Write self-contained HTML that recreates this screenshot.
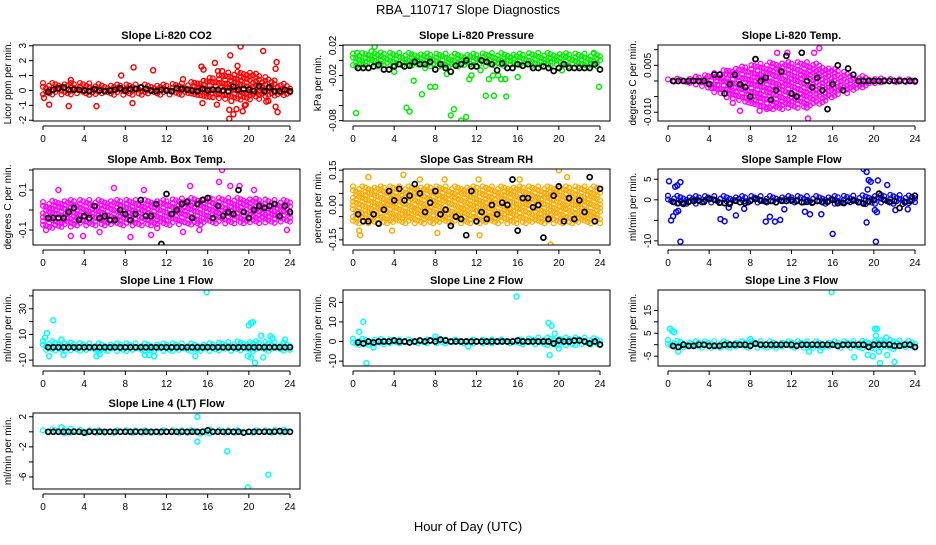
<!DOCTYPE html>
<html><head><meta charset="utf-8"><style>
body{margin:0;background:#fff;}
svg text{font-family:"Liberation Sans",Arial,sans-serif;}
</style></head><body>
<svg id="chart" width="936" height="540" viewBox="0 0 936 540" xmlns="http://www.w3.org/2000/svg">
<text x="468" y="14" text-anchor="middle" font-size="13">RBA_110717  Slope Diagnostics</text>
<text x="468" y="531" text-anchor="middle" font-size="13">Hour of Day (UTC)</text>
</svg>
<script>
// ---- data arrays ----
const xTicks = [0,4,8,12,16,20,24];
const bandHours = [0,2,4,6,8,10,12,14,16,18,20,22,24];

const p1Lo = [-0.3,-0.3,-0.3,-0.3,-0.3,-0.3,-0.3,-0.3,-0.5,-0.6,-0.7,-0.5,-0.3];
const p1Hi = [0.5,0.5,0.5,0.4,0.4,0.4,0.4,0.5,0.8,1.2,1.3,0.8,0.3];
const p1Out = [[0.1,-0.5],[0.6,-0.95],[2.5,-1.05],[2.7,0.7],[5.2,-1.05],[8.8,1.55],[8.7,-0.85],[10.7,1.35],[13.6,0.75],[15.4,1.6],[15.6,1.4],[16.7,1.85],[16.9,-0.95],[17.4,1.3],[18.1,-1.9],[18.2,2.35],[18.1,-1.3],[18.5,-1.6],[18.8,-1.25],[19.2,2.95],[19.4,-1.4],[19.6,-1.0],[18.9,1.65],[21.4,2.65],[22.7,1.9],[22.6,-1.1],[22.8,-1.45],[22.6,1.45],[19.7,-0.95],[17.0,1.3],[18.3,-0.7],[15.5,-0.85],[7.6,1.0],[21.7,-0.75],[21.9,-0.7]];
const p1Black = [-0.1,0.05,0.15,0.2,0.05,0.05,0.05,0.0,-0.05,0.1,0.0,-0.05,0.0,0.05,0.15,0.0,0.1,0.1,0.2,0.1,0.0,-0.05,0.05,0.0,-0.05,0.15,0.1,0.05,0.0,-0.05,0.1,0.0,0.05,0.05,0.0,-0.05,0.25,0.05,0.1,0.05,-0.05,0.3,-0.05,0.2,-0.05,-0.05,0.05,-0.05];

const p2Lo = [-0.008,-0.008,-0.008,-0.008,-0.008,-0.008,-0.008,-0.008,-0.008,-0.008,-0.008,-0.008,-0.008];
const p2Hi = [0.009,0.011,0.01,0.01,0.009,0.009,0.009,0.01,0.009,0.01,0.01,0.009,0.009];
const p2Out = [[0.3,-0.07],[0.4,0.01],[4.0,-0.015],[5.2,-0.063],[5.5,-0.068],[5.9,-0.027],[6.7,-0.045],[7.0,-0.01],[7.5,-0.035],[8.0,-0.035],[9.1,-0.018],[9.5,-0.073],[9.8,-0.065],[10.5,-0.08],[11.0,-0.075],[11.3,-0.025],[11.5,-0.02],[12.4,-0.013],[12.9,-0.047],[13.2,-0.025],[13.7,-0.047],[13.6,-0.02],[14.1,-0.02],[14.4,-0.025],[14.8,-0.025],[14.9,-0.048],[16.0,-0.022],[20.3,-0.013],[23.9,-0.035],[2.1,0.018],[1.8,0.012],[23.4,0.01]];
const p2Black = [-0.01,-0.01,-0.01,-0.008,-0.006,-0.012,-0.012,-0.008,-0.005,-0.008,-0.007,-0.002,-0.005,-0.005,-0.002,-0.012,-0.005,-0.01,-0.015,-0.007,-0.005,0,-0.008,-0.008,0,-0.002,-0.005,-0.013,-0.004,-0.01,-0.01,-0.005,-0.007,-0.005,-0.01,-0.01,-0.008,-0.01,-0.014,-0.01,-0.005,-0.01,-0.01,-0.01,-0.01,-0.01,-0.005,-0.012];

const p3Lo = [-0.0005,-0.001,-0.003,-0.006,-0.008,-0.009,-0.009,-0.008,-0.006,-0.003,-0.001,-0.0005,-0.0005];
const p3Hi = [0.0005,0.001,0.002,0.004,0.005,0.006,0.006,0.006,0.004,0.002,0.001,0.0005,0.0005];
const p3Out = [[7.0,-0.0095],[8.9,-0.0095],[9.6,-0.0089],[10.6,0.009],[11.6,0.009],[13.6,-0.012],[14.7,0.0105],[13.5,-0.0085],[6.3,-0.007],[8.5,0.007],[14.2,0.009]];
const p3Black = [0,0,0,0,0,0,0,-0.001,0.002,0.002,-0.004,-0.001,0.002,-0.001,-0.002,-0.005,0.007,0,0.001,-0.006,-0.003,0.003,0.008,-0.004,-0.005,0.009,0,-0.002,0.001,-0.003,-0.009,-0.001,0.005,-0.003,0.004,0.002,0,0,0,0,0,0,0,0,0,0,0,0];

const p4Lo = [-0.09,-0.09,-0.08,-0.08,-0.08,-0.08,-0.08,-0.08,-0.07,-0.07,-0.07,-0.07,-0.07];
const p4Hi = [0.04,0.05,0.05,0.05,0.05,0.05,0.05,0.06,0.06,0.06,0.06,0.05,0.05];
const p4Out = [[3.9,-0.13],[2.7,-0.13],[8.5,-0.135],[10.5,-0.125],[13.6,-0.11],[17.4,0.2],[17.1,0.14],[6.9,0.11],[9.8,0.1],[14.3,0.12],[18.2,0.12],[19.1,0.12],[20.5,0.1],[1.5,0.1],[0.3,-0.1],[23.7,-0.1],[11.1,-0.09],[5.5,-0.11],[15.2,-0.1]];
const p4Black = [-0.04,-0.04,-0.04,-0.04,-0.01,0.01,-0.05,-0.03,-0.04,0.02,-0.04,-0.03,-0.05,-0.05,0.0,-0.02,-0.05,-0.02,0.05,-0.03,-0.03,0.03,-0.17,0.08,-0.02,0.0,0.03,0.04,-0.04,0.03,0.05,0.06,-0.04,0.02,-0.03,-0.01,-0.02,0.10,-0.01,-0.04,0.0,0.02,0.01,0.02,0.03,-0.03,0.02,-0.01];

const p5Lo = [-0.08,-0.08,-0.08,-0.08,-0.08,-0.08,-0.08,-0.08,-0.08,-0.08,-0.08,-0.08,-0.08];
const p5Hi = [0.08,0.08,0.08,0.08,0.08,0.08,0.08,0.08,0.08,0.08,0.08,0.08,0.08];
const p5Out = [[1.5,0.12],[4.9,0.13],[6.5,0.11],[8.9,0.11],[12.2,0.11],[20.0,0.15],[20.8,0.12],[19.2,-0.17],[0.7,-0.13],[0.6,-0.11],[12.3,-0.13],[3.8,-0.11],[8.2,-0.12],[16.2,0.11]];
const p5Black = [-0.04,-0.07,-0.07,-0.04,-0.08,-0.02,0.06,0.02,0.07,0.02,0.04,0.09,0.05,-0.03,0.01,0.06,-0.04,-0.02,-0.09,-0.05,-0.06,-0.13,0.06,-0.07,-0.03,-0.06,0.0,-0.04,0.01,0.0,0.11,-0.11,0.03,0.03,-0.01,0.0,-0.14,-0.06,0.04,0.08,-0.07,0.03,-0.06,0.02,-0.03,0.12,-0.07,0.07];

const p6Lo = [-1.2,-1.0,-0.9,-0.9,-0.9,-0.9,-0.9,-0.9,-1.0,-1.0,-1.2,-1.2,-1.0];
const p6Hi = [1.0,0.9,0.9,0.9,0.9,0.9,0.9,0.9,0.9,1.0,1.2,1.2,1.0];
const p6Out = [[0.1,4.5],[1.2,4.3],[0.9,3.5],[0.7,3.2],[0.3,-5],[0.5,-4],[0.8,-3],[1.2,-10.2],[5.1,-4.7],[5.5,-5.2],[6.6,-3.8],[7.4,-2.2],[9.5,-5.3],[9.9,-4.1],[10.4,-5.3],[10.9,-4.9],[11.3,-2.3],[13.3,-2.9],[13.8,-3.5],[14.9,-3.5],[16.0,-8.3],[19.0,7.5],[19.3,6.8],[19.5,4.8],[19.7,4.4],[19.4,2.5],[19.3,-5.5],[20.1,-2.5],[20.3,-3.0],[20.2,-10.2],[20.4,4.7],[21.3,3.6],[22.1,-2.5],[23.3,-2.3],[5.9,-1.9],[1.0,-2.7]];
const p6Black = [-0.5,-0.8,-1,-0.5,-0.3,-0.2,-0.5,0.2,0,-0.7,-0.8,-1,-0.2,-0.6,-0.8,-0.3,0.2,-0.2,-0.4,-0.3,-0.6,-0.2,-0.3,0,-0.3,-0.6,-0.5,-0.7,-0.3,-0.5,-0.5,0,-0.8,-0.7,-0.3,-0.2,-0.6,-0.9,-0.4,0,1.5,0,-0.5,-0.3,-2,-0.6,-0.3,1.0];

const p7Lo = [-3,-3,-3,-3,-3,-3,-3,-3,-3,-3,-4,-3,-3];
const p7Hi = [5,4,3,3,3,3,3,3,3,4,5,4,3];
const p7Out = [[1.0,21],[0.4,11],[0.2,7.5],[0.6,-7],[2.0,-6],[5.2,-7],[5.5,-5.5],[9.9,-6],[10.3,-6],[10.8,-7],[15.9,43],[14.8,-7],[20.0,17],[20.2,19],[20.4,19.5],[20.6,-12],[21.2,9],[21.4,-8],[22.1,8.5],[22.3,7],[23.5,6],[1.8,6],[19.9,-7],[20.2,-8]];
const p7Black = [0,0,0,0,0,0,0,0,0,0,0,0,0,0,0,0,0,0,0,0,0,0,0,0,0,0,0,0,0,0,0,0,0,0,0,0,0,0,0,0,0,0,0,0,0,0,0,0];

const p8Lo = [-2,-2,-1.5,-1.5,-1.5,-1.5,-1.5,-1.5,-1.5,-2,-2,-2,-2];
const p8Hi = [1.5,1.5,1,1,1,1,1,1,1,2,2,2,1.5];
const p8Out = [[0.6,5],[1.0,10],[1.3,-11],[2.0,-3],[8.0,2.5],[15.9,23],[19.0,9.5],[19.3,8],[19.1,-7],[19.6,4],[20.0,-3.5],[11.2,-2.5]];
const p8Black = [-0.5,-1,0,-0.5,0,0,0,0.5,0,0,-0.5,0,0.5,0,0.5,0,1,0.5,0,0,0,0,0,0,0,0,0,0,0,0,0,0.5,0,0,0,0,0,0,-1,0.5,0,0,0.5,0.5,0,-1,0,-1.5];

const p9Lo = [-1.5,-1.5,-1.5,-1.5,-1.5,-1.5,-1.5,-1.5,-1.5,-1.5,-2,-2,-1.5];
const p9Hi = [2,1.5,1.5,1.5,1.5,1.5,1.5,1.5,1.5,1.5,2,2,1.5];
const p9Out = [[0.2,7],[0.4,6],[0.6,5.5],[1.0,-3],[8.0,2.5],[13.7,-3],[14.8,-2.5],[15.9,23],[18.1,-5.5],[19.4,-4.5],[19.9,-5],[20.1,7],[20.3,7],[20.2,4],[20.6,-8],[21.2,3],[21.3,-4.5],[22.0,-7.5],[20.5,-3]];
const p9Black = [-0.5,-1,0,-0.5,-0.5,0,0,-0.5,-0.5,-0.5,0,0,0,0,0,-0.5,0.5,0,0,0,0,0,0,0,-0.5,0,0,0,0,0,0,0,-0.5,0,0,0,0,0,-1,0,0,0,0,-0.5,-0.5,0,0,-1];

const p10Lo = [-0.2,-0.3,-0.2,-0.2,-0.2,-0.2,-0.2,-0.2,-0.3,-0.2,-0.2,-0.2,-0.2];
const p10Hi = [0.2,0.5,0.2,0.2,0.2,0.2,0.2,0.2,0.3,0.2,0.2,0.2,0.3];
const p10Out = [[15.0,2.0],[15.0,-1.3],[17.9,-2.6],[19.9,-7.4],[21.9,-5.7],[1.8,0.6]];
const p10Black = [0,0,0,0,0,0,0,-0.1,0,0,0,0,0,0,0,0,0,0,0,0,0,0,0,0,0,0,0,0,0,0,0,0.2,0,0,0,0,0,0,-0.1,0,0,0,0,0,0,0.1,0,0];

// ---- panel configuration ----
const panels = [
 {id:'co2',title:'Slope Li-820 CO2',ylab:'Licor ppm per min.',col:0,row:0,ylim:[-2.05,3.05],ticks:[-2,-1,0,1,2,3],labels:[-2,-1,0,1,2,3],color:'#ff0000',lo:p1Lo,hi:p1Hi,out:p1Out,black:p1Black},
 {id:'pressure',title:'Slope Li-820 Pressure',ylab:'kPa per min.',col:1,row:0,ylim:[-0.0805,0.0205],ticks:[-0.08,-0.06,-0.04,-0.02,0,0.02],labels:['-0.08',null,null,'-0.02',null,'0.02'],color:'#00ee00',lo:p2Lo,hi:p2Hi,out:p2Out,black:p2Black},
 {id:'li820-temp',title:'Slope Li-820 Temp.',ylab:'degrees C per min.',col:2,row:0,ylim:[-0.0128,0.0115],ticks:[-0.01,-0.005,0,0.005,0.01],labels:['-0.010',null,null,'0.005',null],color:'#ff00ff',lo:p3Lo,hi:p3Hi,out:p3Out,black:p3Black},
 {id:'amb-box-temp',title:'Slope Amb. Box Temp.',ylab:'degrees C per min.',col:0,row:1,ylim:[-0.175,0.205],ticks:[-0.1,0,0.1,0.2],labels:['-0.1',null,'0.1',null],color:'#ff00ff',lo:p4Lo,hi:p4Hi,out:p4Out,black:p4Black},
 {id:'gas-stream-rh',title:'Slope Gas Stream RH',ylab:'percent per min.',col:1,row:1,ylim:[-0.172,0.155],ticks:[-0.15,-0.1,-0.05,0,0.05,0.1,0.15],labels:['-0.15',null,null,'0.00',null,null,'0.15'],color:'#ffaa00',lo:p5Lo,hi:p5Hi,out:p5Out,black:p5Black},
 {id:'sample-flow',title:'Slope Sample Flow',ylab:'ml/min per min.',col:2,row:1,ylim:[-11,7.5],ticks:[-10,-5,0,5],labels:['-10',null,'0','5'],color:'#0000ff',lo:p6Lo,hi:p6Hi,out:p6Out,black:p6Black},
 {id:'line1-flow',title:'Slope Line 1 Flow',ylab:'ml/min per min.',col:0,row:2,ylim:[-14.6,44.6],ticks:[-10,0,10,20,30,40],labels:['-10',null,'10',null,'30',null],color:'#00ffff',lo:p7Lo,hi:p7Hi,out:p7Out,black:p7Black},
 {id:'line2-flow',title:'Slope Line 2 Flow',ylab:'ml/min per min.',col:1,row:2,ylim:[-12.5,26.3],ticks:[-10,0,10,20],labels:['-10','0','10','20'],color:'#00ffff',lo:p8Lo,hi:p8Hi,out:p8Out,black:p8Black},
 {id:'line3-flow',title:'Slope Line 3 Flow',ylab:'ml/min per min.',col:2,row:2,ylim:[-9.3,23.9],ticks:[-5,0,5,10,15],labels:['-5',null,'5',null,'15'],color:'#00ffff',lo:p9Lo,hi:p9Hi,out:p9Out,black:p9Black},
 {id:'line4-flow',title:'Slope Line 4 (LT) Flow',ylab:'ml/min per min.',col:0,row:3,ylim:[-7.6,2.5],ticks:[-6,-4,-2,0,2],labels:['-6',null,'-2',null,'2'],color:'#00ffff',lo:p10Lo,hi:p10Hi,out:p10Out,black:p10Black}
];

const colLeft = [33,343,658];
const rowTop = [45,169,290,413];
const W = 267, H = 76;
const NS = 'http://www.w3.org/2000/svg';
const svg = document.getElementById('chart');
function mk(tag, attrs, parent){ const e=document.createElementNS(NS,tag); for(const k in attrs) e.setAttribute(k,attrs[k]); (parent||svg).appendChild(e); return e; }

panels.forEach(p=>{
  const L = colLeft[p.col], T = rowTop[p.row], B = T+H;
  const xs = h => L+10+h*(W-20)/24;
  const ys = v => B-(v-p.ylim[0])/(p.ylim[1]-p.ylim[0])*H;
  const g = mk('g',{});
  
  
  const clip = mk('clipPath',{id:'clip-'+p.id}, g);
  mk('rect',{x:L,y:T,width:W,height:H},clip);
  const pts = mk('g',{'clip-path':'url(#clip-'+p.id+')'}, g);
  
  
  let k=0;
  for(let h=0; h<=24.001; h+=0.3){
    let i=Math.min(Math.floor(h/2),11), f=(h-bandHours[i])/2;
    const lo=p.lo[i]+(p.lo[i+1]-p.lo[i])*f, hi=p.hi[i]+(p.hi[i+1]-p.hi[i])*f;
    const y1=ys(hi), y0=ys(lo);
    const off=(k%3)*1.3; k++;
    let j=0;
    for(let y=y1+off; y<=y0; y+=3.8){
      j++;
      if((j*3+k)%5===0) continue;
      const c = mk('circle',{cx:xs(h).toFixed(1),cy:y.toFixed(1),r:2.4,fill:'none',stroke:p.color,'stroke-width':1.3},pts);
      
      
    }
  }
  p.out.forEach(d=>{
    const c = mk('circle',{cx:xs(d[0]).toFixed(1),cy:ys(d[1]).toFixed(1),r:2.5,fill:'none',stroke:p.color,'stroke-width':1.5},pts);
    
    
  });
  p.black.forEach((v,i)=>{
    const c = mk('circle',{cx:xs(0.5+i*0.5).toFixed(1),cy:ys(v).toFixed(1),r:2.5,fill:'none',stroke:'#000','stroke-width':1.7},pts);
    
    
  });
  const box = mk('rect',{x:L,y:T,width:W,height:H,fill:'none',stroke:'#000','stroke-width':1},g);
  
  
  const t = mk('text',{x:L+W/2,y:T-6,'text-anchor':'middle','font-size':11,'font-weight':'bold'},g);
  t.textContent = p.title;
  
  
  const ax = mk('g',{},g);
  
  
  mk('line',{x1:xs(0),x2:xs(24),y1:B+5,y2:B+5,stroke:'#000'},ax);
  xTicks.forEach(h=>{
    mk('line',{x1:xs(h),x2:xs(h),y1:B+5,y2:B+9,stroke:'#000'},ax);
    const tl = mk('text',{x:xs(h),y:B+21,'text-anchor':'middle','font-size':10},ax);
    tl.textContent = h;
    
    
  });
  const ay = mk('g',{},g);
  
  
  p.ticks.forEach((v,i)=>{
    const y=ys(v);
    mk('line',{x1:L-4,x2:L,y1:y,y2:y,stroke:'#000'},ay);
    if(p.labels[i]!==null){
      const tl = mk('text',{x:0,y:0,'text-anchor':'middle','font-size':10,transform:'translate('+(L-7)+','+y+') rotate(-90)'},ay);
      tl.textContent = p.labels[i];
      
      
    }
  });
  const yl = mk('text',{x:0,y:0,'text-anchor':'middle','font-size':10,transform:'translate('+(L-22)+','+(T+H/2)+') rotate(-90)'},g);
  yl.textContent = p.ylab;
  
  
});
</script>
</body></html>
